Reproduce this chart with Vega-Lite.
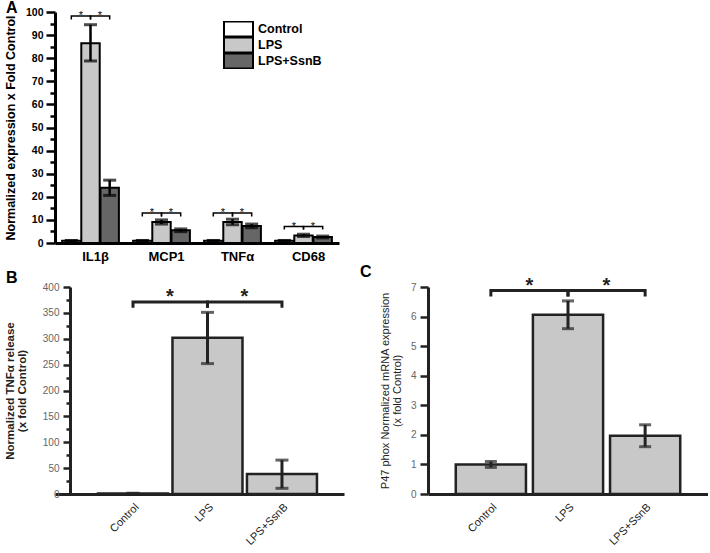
{
  "$schema": "https://vega.github.io/schema/vega-lite/v6.json",
  "padding": {"left": 4, "top": 0, "right": 0, "bottom": 0},
  "background": "white",
  "spacing": 0,
  "config": {
    "font": "Liberation Sans",
    "view": {"stroke": null},
    "axis": {"grid": false, "labelOverlap": false}
  },
  "datasets": {
    "a": [
      {"gene": "IL1β", "cond": "Control", "value": 1, "lo": 0.9, "hi": 1.1},
      {"gene": "IL1β", "cond": "LPS", "value": 86.5, "lo": 78.8, "hi": 94.5},
      {"gene": "IL1β", "cond": "LPS+SsnB", "value": 23.9, "lo": 20.6, "hi": 27.2},
      {"gene": "MCP1", "cond": "Control", "value": 1, "lo": 0.9, "hi": 1.1},
      {"gene": "MCP1", "cond": "LPS", "value": 9.1, "lo": 8.2, "hi": 10},
      {"gene": "MCP1", "cond": "LPS+SsnB", "value": 5.5, "lo": 4.9, "hi": 6.1},
      {"gene": "TNFα", "cond": "Control", "value": 1, "lo": 0.9, "hi": 1.1},
      {"gene": "TNFα", "cond": "LPS", "value": 9.1, "lo": 7.9, "hi": 10.3},
      {"gene": "TNFα", "cond": "LPS+SsnB", "value": 7.4, "lo": 6.6, "hi": 8.2},
      {"gene": "CD68", "cond": "Control", "value": 1, "lo": 0.9, "hi": 1.1},
      {"gene": "CD68", "cond": "LPS", "value": 3.3, "lo": 2.8, "hi": 3.8},
      {"gene": "CD68", "cond": "LPS+SsnB", "value": 2.6, "lo": 2.2, "hi": 3.0}
    ],
    "abr": [
      {"gene": "IL1β", "br": "IL1β-1", "cond": "Control", "y": 96.8, "o": 0},
      {"gene": "IL1β", "br": "IL1β-1", "cond": "Control", "y": 98.3, "o": 1},
      {"gene": "IL1β", "br": "IL1β-1", "cond": "LPS", "y": 98.3, "o": 2},
      {"gene": "IL1β", "br": "IL1β-1", "cond": "LPS", "y": 96.8, "o": 3},
      {"gene": "IL1β", "br": "IL1β-2", "cond": "LPS", "y": 96.8, "o": 0},
      {"gene": "IL1β", "br": "IL1β-2", "cond": "LPS", "y": 98.3, "o": 1},
      {"gene": "IL1β", "br": "IL1β-2", "cond": "LPS+SsnB", "y": 98.3, "o": 2},
      {"gene": "IL1β", "br": "IL1β-2", "cond": "LPS+SsnB", "y": 96.8, "o": 3},
      {"gene": "MCP1", "br": "MCP1-1", "cond": "Control", "y": 11.5, "o": 0},
      {"gene": "MCP1", "br": "MCP1-1", "cond": "Control", "y": 13, "o": 1},
      {"gene": "MCP1", "br": "MCP1-1", "cond": "LPS", "y": 13, "o": 2},
      {"gene": "MCP1", "br": "MCP1-1", "cond": "LPS", "y": 11.5, "o": 3},
      {"gene": "MCP1", "br": "MCP1-2", "cond": "LPS", "y": 11.5, "o": 0},
      {"gene": "MCP1", "br": "MCP1-2", "cond": "LPS", "y": 13, "o": 1},
      {"gene": "MCP1", "br": "MCP1-2", "cond": "LPS+SsnB", "y": 13, "o": 2},
      {"gene": "MCP1", "br": "MCP1-2", "cond": "LPS+SsnB", "y": 11.5, "o": 3},
      {"gene": "TNFα", "br": "TNFα-1", "cond": "Control", "y": 11.5, "o": 0},
      {"gene": "TNFα", "br": "TNFα-1", "cond": "Control", "y": 13, "o": 1},
      {"gene": "TNFα", "br": "TNFα-1", "cond": "LPS", "y": 13, "o": 2},
      {"gene": "TNFα", "br": "TNFα-1", "cond": "LPS", "y": 11.5, "o": 3},
      {"gene": "TNFα", "br": "TNFα-2", "cond": "LPS", "y": 11.5, "o": 0},
      {"gene": "TNFα", "br": "TNFα-2", "cond": "LPS", "y": 13, "o": 1},
      {"gene": "TNFα", "br": "TNFα-2", "cond": "LPS+SsnB", "y": 13, "o": 2},
      {"gene": "TNFα", "br": "TNFα-2", "cond": "LPS+SsnB", "y": 11.5, "o": 3},
      {"gene": "CD68", "br": "CD68-1", "cond": "Control", "y": 5.8, "o": 0},
      {"gene": "CD68", "br": "CD68-1", "cond": "Control", "y": 7.1, "o": 1},
      {"gene": "CD68", "br": "CD68-1", "cond": "LPS", "y": 7.1, "o": 2},
      {"gene": "CD68", "br": "CD68-1", "cond": "LPS", "y": 5.8, "o": 3},
      {"gene": "CD68", "br": "CD68-2", "cond": "LPS", "y": 5.8, "o": 0},
      {"gene": "CD68", "br": "CD68-2", "cond": "LPS", "y": 7.1, "o": 1},
      {"gene": "CD68", "br": "CD68-2", "cond": "LPS+SsnB", "y": 7.1, "o": 2},
      {"gene": "CD68", "br": "CD68-2", "cond": "LPS+SsnB", "y": 5.8, "o": 3}
    ],
    "ast": [
      {"gene": "IL1β", "cond": "Control", "y": 98.3, "sig": "*"},
      {"gene": "IL1β", "cond": "LPS", "y": 98.3, "sig": "*"},
      {"gene": "MCP1", "cond": "Control", "y": 13, "sig": "*"},
      {"gene": "MCP1", "cond": "LPS", "y": 13, "sig": "*"},
      {"gene": "TNFα", "cond": "Control", "y": 13, "sig": "*"},
      {"gene": "TNFα", "cond": "LPS", "y": 13, "sig": "*"},
      {"gene": "CD68", "cond": "Control", "y": 7.1, "sig": "*"},
      {"gene": "CD68", "cond": "LPS", "y": 7.1, "sig": "*"}
    ],
    "b": [
      {"cond": "Control", "value": 1, "lo": 0.5, "hi": 1.5},
      {"cond": "LPS", "value": 302, "lo": 252, "hi": 351},
      {"cond": "LPS+SsnB", "value": 38.5, "lo": 11, "hi": 65.5}
    ],
    "bbr": [
      {"br": "b1", "cond": "Control", "y": 360, "o": 0},
      {"br": "b1", "cond": "Control", "y": 371, "o": 1},
      {"br": "b1", "cond": "LPS", "y": 371, "o": 2},
      {"br": "b1", "cond": "LPS", "y": 360, "o": 3},
      {"br": "b2", "cond": "LPS", "y": 360, "o": 0},
      {"br": "b2", "cond": "LPS", "y": 371, "o": 1},
      {"br": "b2", "cond": "LPS+SsnB", "y": 371, "o": 2},
      {"br": "b2", "cond": "LPS+SsnB", "y": 360, "o": 3}
    ],
    "bst": [
      {"cond": "Control", "y": 371, "sig": "*"},
      {"cond": "LPS", "y": 371, "sig": "*"}
    ],
    "c": [
      {"cond": "Control", "value": 1.0, "lo": 0.9, "hi": 1.1},
      {"cond": "LPS", "value": 6.06, "lo": 5.59, "hi": 6.53},
      {"cond": "LPS+SsnB", "value": 1.97, "lo": 1.6, "hi": 2.34}
    ],
    "cbr": [
      {"br": "c1", "cond": "Control", "y": 6.68, "o": 0},
      {"br": "c1", "cond": "Control", "y": 6.88, "o": 1},
      {"br": "c1", "cond": "LPS", "y": 6.88, "o": 2},
      {"br": "c1", "cond": "LPS", "y": 6.68, "o": 3},
      {"br": "c2", "cond": "LPS", "y": 6.68, "o": 0},
      {"br": "c2", "cond": "LPS", "y": 6.88, "o": 1},
      {"br": "c2", "cond": "LPS+SsnB", "y": 6.88, "o": 2},
      {"br": "c2", "cond": "LPS+SsnB", "y": 6.68, "o": 3}
    ],
    "cst": [
      {"cond": "Control", "y": 6.88, "sig": "*"},
      {"cond": "LPS", "y": 6.88, "sig": "*"}
    ]
  },
  "vconcat": [
    {
      "title": {"text": "A", "anchor": "start", "frame": "group", "fontSize": 16, "fontWeight": "bold", "color": "black", "dx": -49, "offset": -9},
      "width": 284,
      "height": 231,
      "encoding": {
        "x": {"field": "gene", "type": "nominal", "scale": {"domain": ["IL1β", "MCP1", "TNFα", "CD68"], "paddingInner": 0.2, "paddingOuter": 0.1},
          "axis": {"title": null, "labelAngle": 0, "ticks": false, "domainWidth": 3, "domainColor": "black", "labelFontSize": 13, "labelFontWeight": "bold", "labelColor": "black", "labelPadding": 7, "labelOffset": 5}},
        "xOffset": {"field": "cond", "type": "nominal", "scale": {"domain": ["Control", "LPS", "LPS+SsnB"], "paddingInner": 0.04}}
      },
      "layer": [
        {
          "data": {"name": "a"},
          "mark": {"type": "bar", "stroke": "black", "strokeWidth": 2},
          "encoding": {
            "y": {"field": "value", "type": "quantitative", "scale": {"domain": [0, 100]},
              "axis": {"title": "Normalized expression x Fold Control", "titleFontSize": 12.5, "titleFontWeight": "bold", "titleColor": "black", "titlePadding": 8,
                "values": [0,5,10,15,20,25,30,35,40,45,50,55,60,65,70,75,80,85,90,95,100], "tickCount": 100,
                "labelExpr": "datum.value % 10 === 0 ? datum.label : ''", "labelOverlap": false,
                "tickSize": {"condition": {"test": "datum.value % 10 === 0", "value": 9}, "value": 5},
                "tickWidth": 2.5, "tickColor": "black", "domainWidth": 3, "domainColor": "black",
                "labelFontSize": 10.5, "labelFontWeight": "bold", "labelColor": "black", "labelPadding": 3}},
            "fill": {"field": "cond", "type": "nominal", "scale": {"domain": ["Control", "LPS", "LPS+SsnB"], "range": ["white", "#c8c8c8", "#666666"]},
              "legend": {"title": null, "orient": "none", "legendX": 168, "legendY": 9, "symbolType": "M-1,-0.52H1V0.52H-1Z", "symbolSize": 841,
                "symbolStrokeColor": "black", "symbolStrokeWidth": 2, "labelFontSize": 12.5, "labelFontWeight": "bold", "labelColor": "black",
                "clipHeight": 16, "rowPadding": 0, "labelOffset": 4}}
          }
        },
        {
          "data": {"name": "a"},
          "mark": {"type": "rule", "color": "black", "strokeWidth": 2.5},
          "encoding": {"y": {"field": "lo", "type": "quantitative"}, "y2": {"field": "hi"}}
        },
        {
          "data": {"name": "a"},
          "mark": {"type": "tick", "color": "black", "thickness": 3, "size": 13},
          "encoding": {"y": {"field": "lo", "type": "quantitative"}}
        },
        {
          "data": {"name": "a"},
          "mark": {"type": "tick", "color": "black", "thickness": 3, "size": 13},
          "encoding": {"y": {"field": "hi", "type": "quantitative"}}
        },
        {
          "data": {"name": "abr"},
          "mark": {"type": "line", "color": "black", "strokeWidth": 1.5},
          "encoding": {"y": {"field": "y", "type": "quantitative"}, "detail": {"field": "br"}, "order": {"field": "o"}}
        },
        {
          "data": {"name": "ast"},
          "mark": {"type": "text", "dx": 9.5, "dy": 3, "fontSize": 11, "baseline": "alphabetic", "color": "black"},
          "encoding": {"y": {"field": "y", "type": "quantitative"}, "text": {"field": "sig"}}
        }
      ]
    },
    {
      "hconcat": [
        {
          "title": {"text": "B", "anchor": "start", "frame": "group", "fontSize": 16, "fontWeight": "bold", "color": "black", "dx": -49, "offset": -4},
          "width": 289,
          "height": 207,
          "encoding": {
            "x": {"field": "cond", "type": "nominal", "scale": {"domain": ["Control", "LPS", "LPS+SsnB"], "paddingInner": 0.06, "paddingOuter": 0.47, "align": 0.614},
              "axis": {"title": null, "labelAngle": -45, "ticks": false, "domainWidth": 3, "domainColor": "#222", "labelFontSize": 11, "labelColor": "#222", "labelPadding": 7}}
          },
          "layer": [
            {
              "data": {"name": "b"},
              "mark": {"type": "bar", "fill": "#c8c8c8", "stroke": "#222", "strokeWidth": 2.5},
              "encoding": {
                "y": {"field": "value", "type": "quantitative", "scale": {"domain": [0, 400]},
                  "axis": {"title": ["Normalized TNFα release", "(x fold Control)"], "titleFontSize": 11.5, "titleFontWeight": "bold", "titleColor": "#222", "titleLineHeight": 12, "titlePadding": 15,
                    "offset": -15,
                    "values": [0,25,50,75,100,125,150,175,200,225,250,275,300,325,350,375,400], "tickCount": 100,
                    "labelExpr": "datum.value % 50 === 0 ? datum.label : ''", "labelOverlap": false,
                    "tickSize": {"condition": {"test": "datum.value % 50 === 0", "value": 7}, "value": 4},
                    "tickWidth": 2.5, "tickColor": "#222", "domainWidth": 3, "domainColor": "#222",
                    "labelFontSize": 10, "labelColor": "#666", "labelPadding": 4}}
              }
            },
            {
              "data": {"name": "b"},
              "mark": {"type": "rule", "color": "#222", "strokeWidth": 3},
              "encoding": {"y": {"field": "lo", "type": "quantitative"}, "y2": {"field": "hi"}}
            },
            {
              "data": {"name": "b"},
              "mark": {"type": "tick", "color": "#222", "thickness": 3, "size": 13},
              "encoding": {"y": {"field": "lo", "type": "quantitative"}}
            },
            {
              "data": {"name": "b"},
              "mark": {"type": "tick", "color": "#222", "thickness": 3, "size": 13},
              "encoding": {"y": {"field": "hi", "type": "quantitative"}}
            },
            {
              "data": {"name": "bbr"},
              "mark": {"type": "line", "color": "#222", "strokeWidth": 3},
              "encoding": {"y": {"field": "y", "type": "quantitative"}, "detail": {"field": "br"}, "order": {"field": "o"}}
            },
            {
              "data": {"name": "bst"},
              "mark": {"type": "text", "dx": 37, "dy": 1, "fontSize": 20, "fontWeight": "bold", "baseline": "alphabetic", "color": "#222"},
              "encoding": {"y": {"field": "y", "type": "quantitative"}, "text": {"field": "sig"}}
            }
          ]
        },
        {
          "title": {"text": "C", "anchor": "start", "frame": "group", "fontSize": 16, "fontWeight": "bold", "color": "black", "dx": -68, "offset": -4},
          "width": 280,
          "height": 207,
          "encoding": {
            "x": {"field": "cond", "type": "nominal", "scale": {"domain": ["Control", "LPS", "LPS+SsnB"], "paddingInner": 0.09, "paddingOuter": 0.36},
              "axis": {"title": null, "labelAngle": -45, "ticks": false, "domainWidth": 3, "domainColor": "#222", "labelFontSize": 11, "labelColor": "#222", "labelPadding": 7}}
          },
          "layer": [
            {
              "data": {"name": "c"},
              "mark": {"type": "bar", "fill": "#c8c8c8", "stroke": "#222", "strokeWidth": 2.5},
              "encoding": {
                "y": {"field": "value", "type": "quantitative", "scale": {"domain": [0, 7]},
                  "axis": {"title": ["P47 phox Normalized mRNA expression", "(x fold Control)"], "titleFontSize": 11, "titleFontWeight": "normal", "titleColor": "#222", "titleLineHeight": 12, "titlePadding": 8,
                    "values": [0,0.5,1,1.5,2,2.5,3,3.5,4,4.5,5,5.5,6,6.5,7], "tickCount": 100, "format": "d",
                    "labelExpr": "datum.value % 1 === 0 ? datum.label : ''", "labelOverlap": false,
                    "tickSize": {"condition": {"test": "datum.value % 1 === 0", "value": 8}, "value": 4},
                    "tickWidth": 2.5, "tickColor": "#222", "domainWidth": 3, "domainColor": "#222",
                    "labelFontSize": 10, "labelColor": "#666", "labelPadding": 4}}
              }
            },
            {
              "data": {"name": "c"},
              "mark": {"type": "rule", "color": "#222", "strokeWidth": 3},
              "encoding": {"y": {"field": "lo", "type": "quantitative"}, "y2": {"field": "hi"}}
            },
            {
              "data": {"name": "c"},
              "mark": {"type": "tick", "color": "#222", "thickness": 3, "size": 12},
              "encoding": {"y": {"field": "lo", "type": "quantitative"}}
            },
            {
              "data": {"name": "c"},
              "mark": {"type": "tick", "color": "#222", "thickness": 3, "size": 12},
              "encoding": {"y": {"field": "hi", "type": "quantitative"}}
            },
            {
              "data": {"name": "cbr"},
              "mark": {"type": "line", "color": "#222", "strokeWidth": 3},
              "encoding": {"y": {"field": "y", "type": "quantitative"}, "detail": {"field": "br"}, "order": {"field": "o"}}
            },
            {
              "data": {"name": "cst"},
              "mark": {"type": "text", "dx": 38.5, "dy": 1, "fontSize": 20, "fontWeight": "bold", "baseline": "alphabetic", "color": "#222"},
              "encoding": {"y": {"field": "y", "type": "quantitative"}, "text": {"field": "sig"}}
            }
          ]
        }
      ],
      "spacing": 16
    }
  ]
}
